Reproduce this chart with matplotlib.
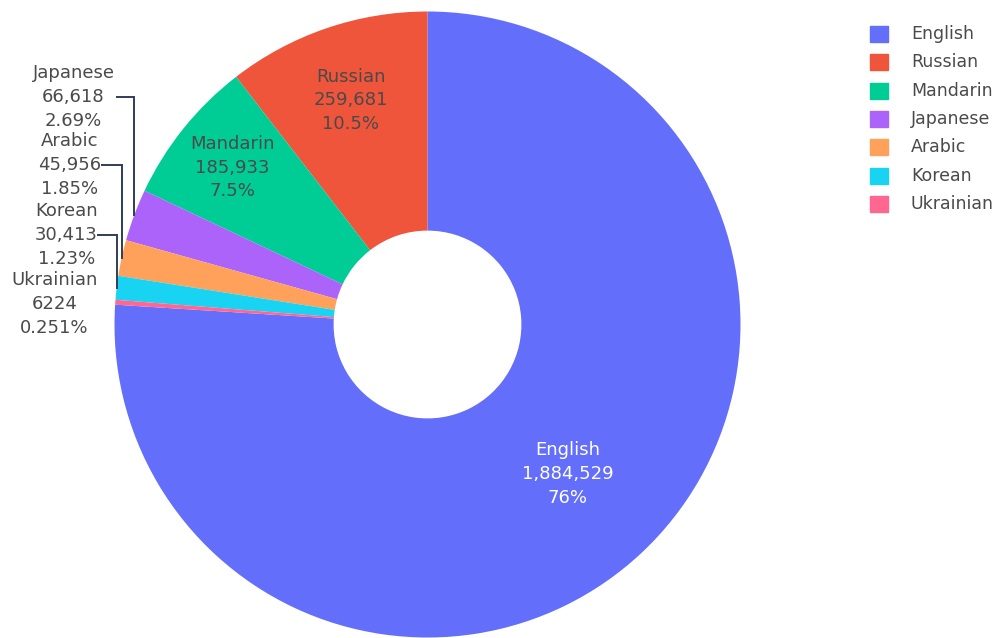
import matplotlib.pyplot as plt
import numpy as np
from matplotlib.patches import Rectangle

languages = ["English", "Russian", "Mandarin", "Japanese", "Arabic", "Korean", "Ukrainian"]
speakers = [1884529, 259681, 185933, 66618, 45956, 30413, 6224]
colors = ["#636EFA", "#EF553B", "#00CC96", "#AB63FA", "#FFA15A", "#19D3F3", "#FF6692"]

W, H = 998, 638
cx, cy, R = 427.5, 324.5, 313   # pie centre and radius in pixels
hole = 0.3

# inside labels: radial position as a fraction of the radius
inside_r = {"English": 0.655, "Russian": 0.757, "Mandarin": 0.80}
# outside labels: block centre (px) and where the leader line starts (px, None = no line)
outside_pos = {
    "Japanese": (73.5, 97, 117),
    "Arabic": (70, 165, 102),
    "Korean": (66.5, 235, 98),
    "Ukrainian": (54.5, 304, None),
}

FS = 13
LS = 1.4
TXT = "#4a4a4a"


def fmt_count(v):
    return f"{v:,}" if v >= 10000 else str(v)


def px2data(px, py):
    return (px - cx) / R, (cy - py) / R


fig = plt.figure(figsize=(W / 100, H / 100), dpi=100)
ax = fig.add_axes([(cx - R) / W, (H - cy - R) / H, 2 * R / W, 2 * R / H])

total = sum(speakers)
# first slice ends at 12 o'clock, slices run counterclockwise
start = 90 - 360 * speakers[0] / total
wedges, _ = ax.pie(speakers, colors=colors, startangle=start, counterclock=True,
                   radius=1, wedgeprops=dict(width=1 - hole, linewidth=0))
ax.set_xlim(-1, 1)
ax.set_ylim(-1, 1)
ax.set_aspect("equal")
ax.axis("off")

for lang, val, w in zip(languages, speakers, wedges):
    pct = 100 * val / total
    label = f"{lang}\n{fmt_count(val)}\n{pct:.3g}%"
    mid = np.deg2rad((w.theta1 + w.theta2) / 2)
    if lang in inside_r:
        r = inside_r[lang]
        col = "white" if lang == "English" else TXT
        ax.text(r * np.cos(mid), r * np.sin(mid), label, ha="center", va="center",
                fontsize=FS, color=col, linespacing=LS)
    else:
        bx, by, line_x = outside_pos[lang]
        tx, ty = px2data(bx, by)
        ax.text(tx, ty, label, ha="center", va="center", fontsize=FS, color=TXT,
                linespacing=LS)
        if line_x is not None:
            ex, ey = np.cos(mid), np.sin(mid)
            lx, ly = px2data(line_x, by)
            ax.plot([lx, ex, ex], [ly, ly, ey], color="#2f3e55", lw=1.4,
                    solid_joinstyle="miter", clip_on=False)

# legend on the right
for i, (lang, col) in enumerate(zip(languages, colors)):
    y = 34 + 28.33 * i
    fig.patches.append(Rectangle((870 / W, 1 - (y + 8) / H), 18 / W, 16 / H,
                                 transform=fig.transFigure, color=col))
    fig.text(911 / W, 1 - y / H, lang, ha="left", va="center", fontsize=12.5, color=TXT)

fig.savefig("out.png", dpi=100)
